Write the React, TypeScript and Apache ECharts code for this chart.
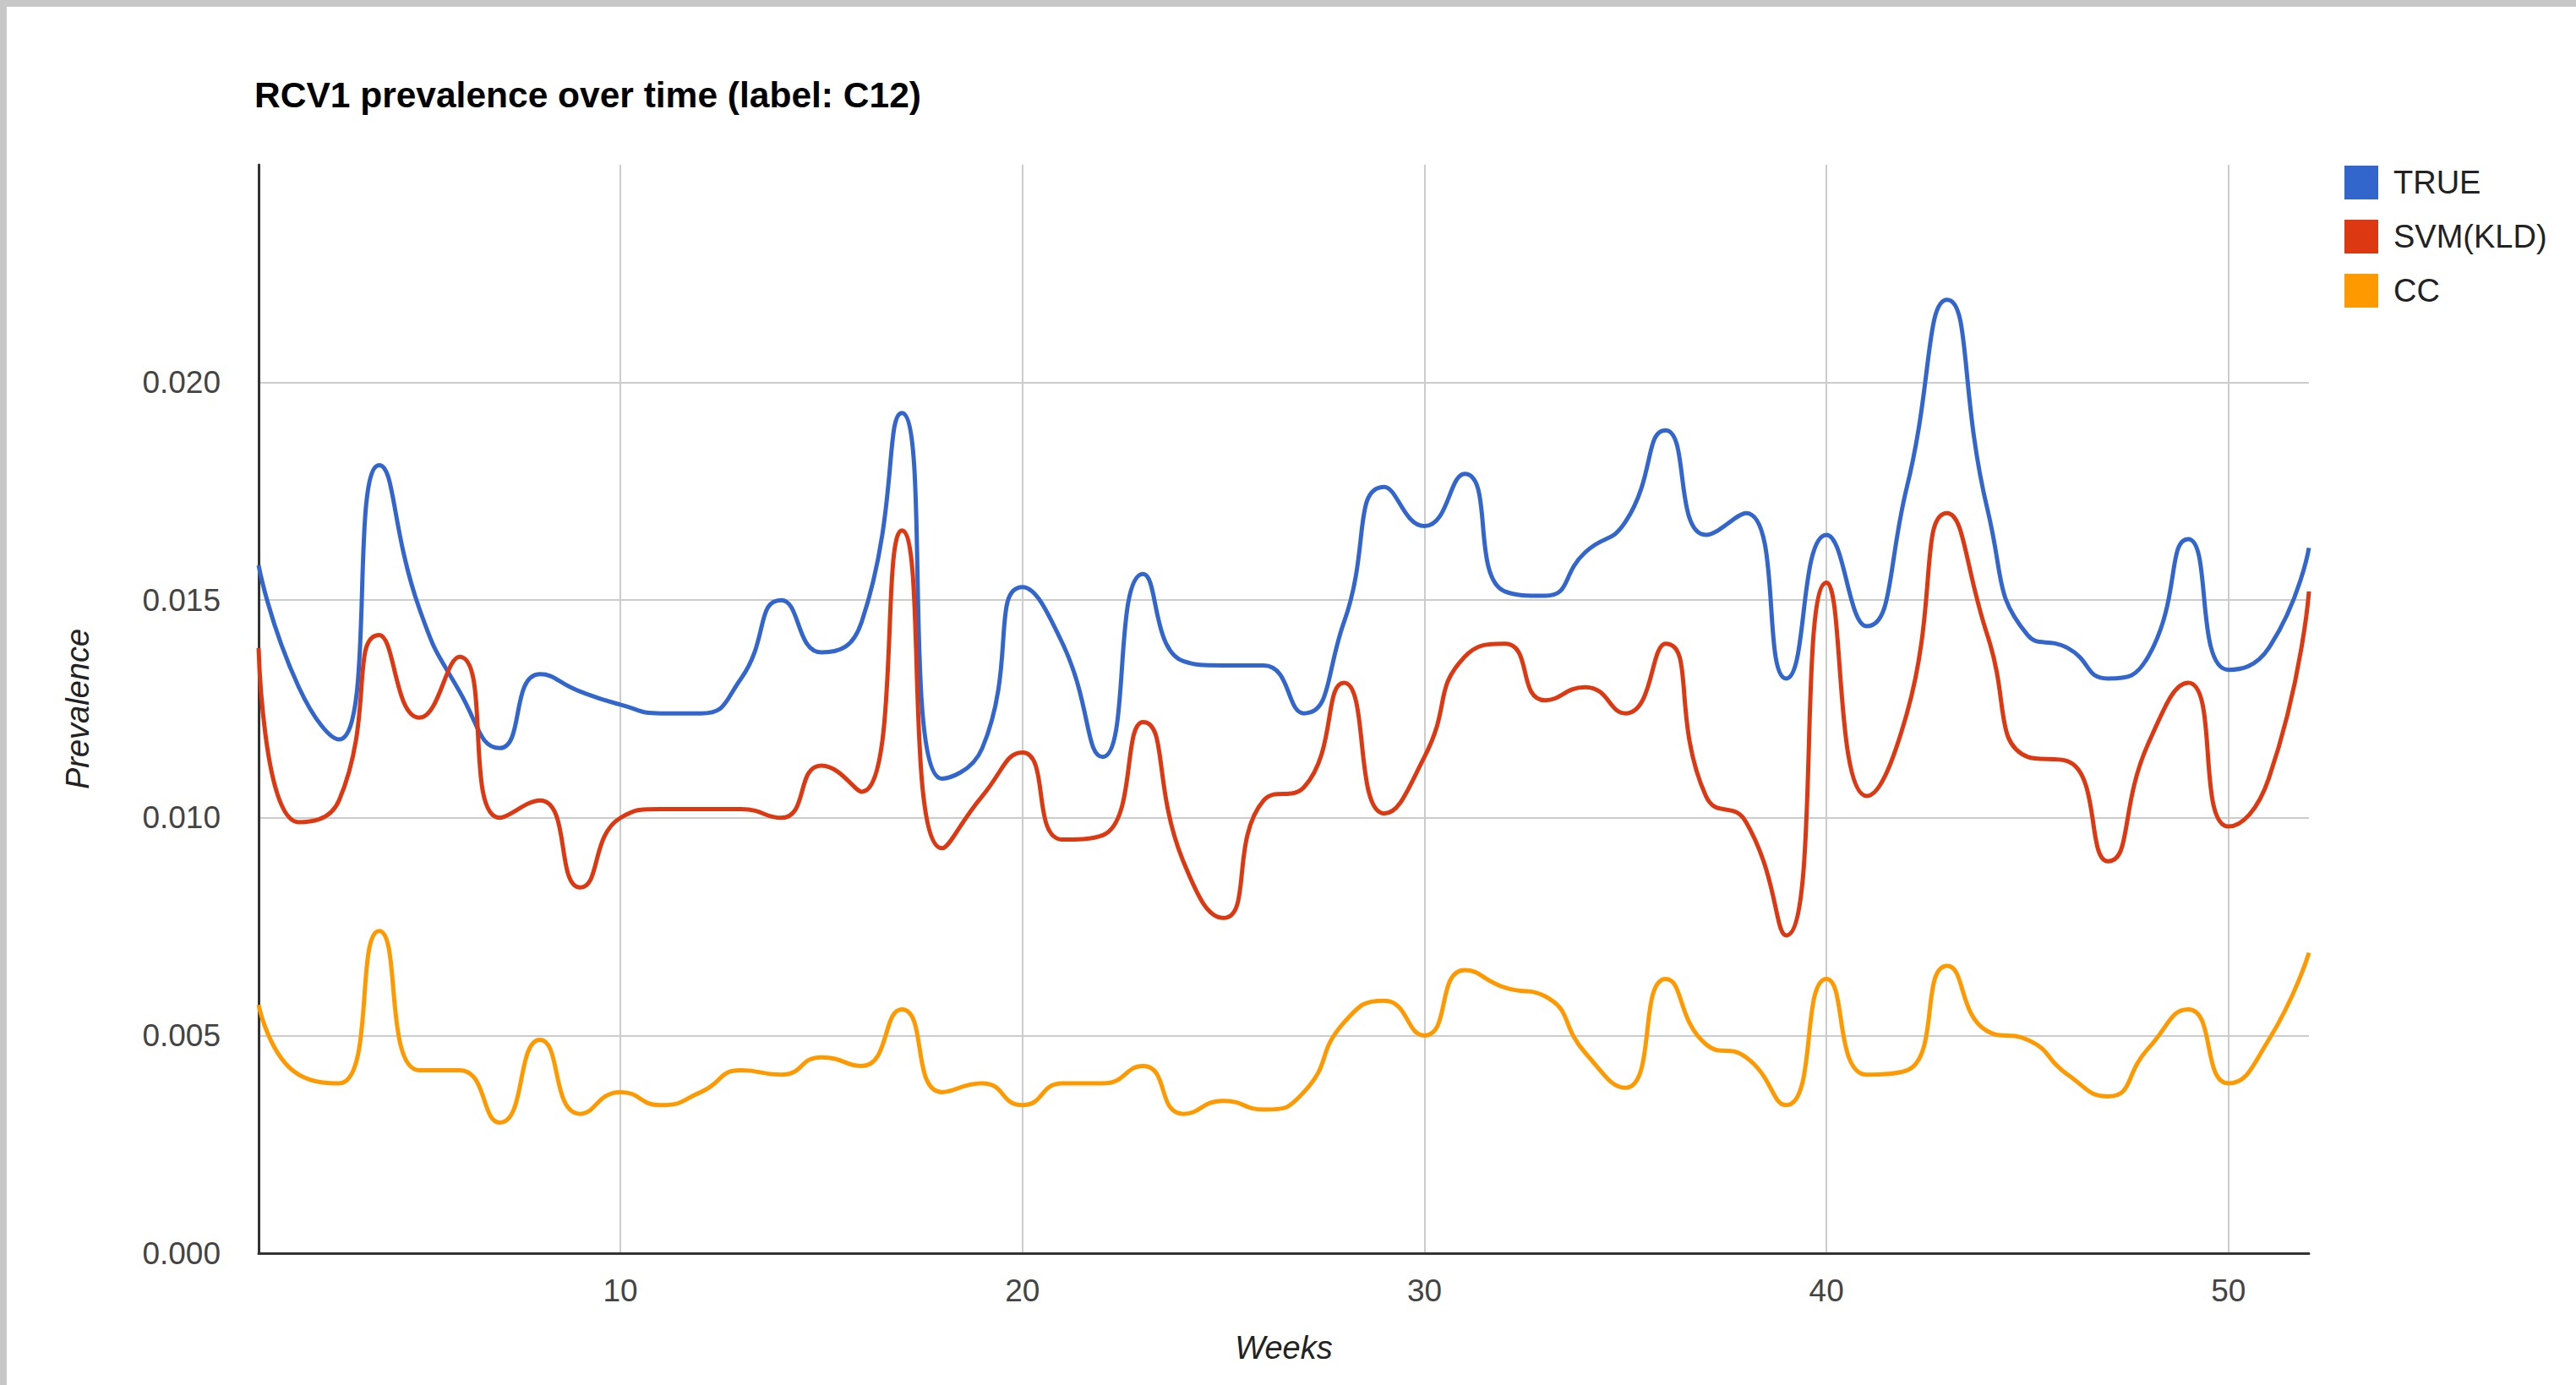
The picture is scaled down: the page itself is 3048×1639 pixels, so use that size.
import React, { useEffect, useRef } from "react";
import * as echarts from "echarts";

const weeks = [
  1, 2, 3, 4, 5, 6, 7, 8, 9, 10, 11, 12, 13, 14, 15, 16, 17, 18, 19, 20, 21, 22, 23, 24, 25, 26,
  27, 28, 29, 30, 31, 32, 33, 34, 35, 36, 37, 38, 39, 40, 41, 42, 43, 44, 45, 46, 47, 48, 49, 50, 51, 52,
];

const trueValues = [
  0.0158, 0.013, 0.0118, 0.0181, 0.0148, 0.0129, 0.0116, 0.0133, 0.0129, 0.0126, 0.0124, 0.0124, 0.0132,
  0.015, 0.0138, 0.0145, 0.0193, 0.0109, 0.0116, 0.0153, 0.014, 0.0114, 0.0156, 0.0136, 0.0135, 0.0135,
  0.0124, 0.0145, 0.0176, 0.0167, 0.0179, 0.0152, 0.0151, 0.0161, 0.0168, 0.0189, 0.0165, 0.017, 0.0132,
  0.0165, 0.0144, 0.0176, 0.0219, 0.0171, 0.0142, 0.0139, 0.0132, 0.0137, 0.0164, 0.0134, 0.0139, 0.0162,
];

const svmValues = [
  0.0139, 0.0099, 0.0104, 0.0142, 0.0123, 0.0137, 0.01, 0.0104, 0.0084, 0.01, 0.0102, 0.0102, 0.0102,
  0.01, 0.0112, 0.0106, 0.0166, 0.0093, 0.0105, 0.0115, 0.0095, 0.0096, 0.0122, 0.009, 0.0077, 0.0104,
  0.0107, 0.0131, 0.0101, 0.0114, 0.0137, 0.014, 0.0127, 0.013, 0.0124, 0.014, 0.0105, 0.0099, 0.0073,
  0.0154, 0.0105, 0.0124, 0.017, 0.0142, 0.0114, 0.0113, 0.009, 0.0117, 0.0131, 0.0098, 0.0109, 0.0152,
];

const ccValues = [
  0.0057, 0.0041, 0.0039, 0.0074, 0.0042, 0.0042, 0.003, 0.0049, 0.0032, 0.0037, 0.0034, 0.0037, 0.0042,
  0.0041, 0.0045, 0.0043, 0.0056, 0.0037, 0.0039, 0.0034, 0.0039, 0.0039, 0.0043, 0.0032, 0.0035, 0.0033,
  0.0037, 0.0053, 0.0058, 0.005, 0.0065, 0.0061, 0.0059, 0.0046, 0.0038, 0.0063, 0.0048, 0.0045, 0.0034,
  0.0063, 0.0041, 0.0042, 0.0066, 0.0051, 0.0049, 0.0041, 0.0036, 0.0047, 0.0056, 0.0039, 0.0049, 0.0069,
];

const xTicks = [10, 20, 30, 40, 50];
const yTicks = [0, 0.005, 0.01, 0.015, 0.02];

const seriesNames = ["TRUE", "SVM(KLD)", "CC"];
const seriesColors = ["#3366cc", "#dc3912", "#ff9900"];

const FONT = "Arial, 'Liberation Sans', sans-serif";

export default function App() {
  const ref = useRef<HTMLDivElement>(null);

  useEffect(() => {
    if (!ref.current) return;
    const chart = echarts.init(ref.current, undefined, { renderer: "svg" });
    const allValues = [trueValues, svmValues, ccValues];
    chart.setOption({
      animation: false,
      backgroundColor: "#ffffff",
      title: {
        text: "RCV1 prevalence over time (label: C12)",
        left: 301,
        top: 91,
        padding: 0,
        textStyle: { fontFamily: FONT, fontSize: 42.5, fontWeight: "bold", color: "#000000" },
      },
      legend: {
        orient: "vertical",
        left: 2774,
        top: 196,
        padding: 0,
        itemWidth: 40,
        itemHeight: 40,
        itemGap: 24,
        icon: "rect",
        data: seriesNames,
        textStyle: { fontFamily: FONT, fontSize: 38, color: "#222222", padding: [0, 0, 0, 13] },
      },
      grid: { left: 306, right: 316, top: 195, bottom: 156, containLabel: false },
      xAxis: {
        type: "value",
        min: 1,
        max: 52,
        name: "Weeks",
        nameLocation: "middle",
        nameGap: 93,
        nameTextStyle: { fontFamily: FONT, fontSize: 38, fontStyle: "italic", color: "#222222" },
        axisLine: { show: true, lineStyle: { color: "#333333", width: 3 } },
        axisTick: { show: false, customValues: xTicks },
        axisLabel: {
          customValues: xTicks,
          fontFamily: FONT,
          fontSize: 37,
          color: "#444444",
          margin: 26,
        },
        splitLine: { show: true, lineStyle: { color: "#cccccc", width: 2 } },
      },
      yAxis: {
        type: "value",
        min: 0,
        max: 0.025,
        name: "Prevalence",
        nameLocation: "middle",
        nameGap: 195,
        nameTextStyle: { fontFamily: FONT, fontSize: 38, fontStyle: "italic", color: "#222222" },
        axisLine: { show: true, lineStyle: { color: "#333333", width: 3 } },
        axisTick: { show: false, customValues: yTicks },
        axisLabel: {
          customValues: yTicks,
          fontFamily: FONT,
          fontSize: 37,
          color: "#444444",
          margin: 45,
          formatter: (v: number) => v.toFixed(3),
        },
        splitLine: { show: true, lineStyle: { color: "#cccccc", width: 2 } },
      },
      graphic: [
        { type: "rect", shape: { x: 0, y: 0, width: 3048, height: 8 }, style: { fill: "#c6c7c6" }, silent: true },
        { type: "rect", shape: { x: 0, y: 0, width: 8, height: 1639 }, style: { fill: "#c6c7c6" }, silent: true },
      ],
      series: seriesNames.map((name, i) => ({
        name,
        type: "line",
        smooth: 0.55,
        showSymbol: false,
        symbol: "none",
        silent: true,
        color: seriesColors[i],
        lineStyle: { color: seriesColors[i], width: 5 },
        data: weeks.map((w, j) => [w, allValues[i][j]]),
      })),
    });
    return () => chart.dispose();
  }, []);

  return (
    <div
      ref={ref}
      style={{ position: "absolute", left: 0, top: 0, width: 3048, height: 1639, background: "#ffffff" }}
    />
  );
}
